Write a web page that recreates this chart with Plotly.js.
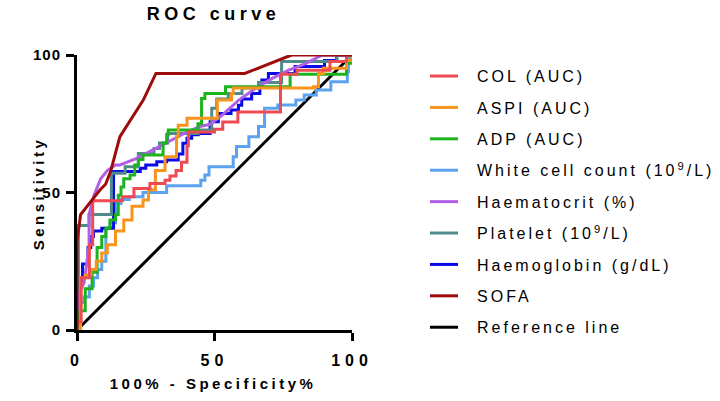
<!DOCTYPE html>
<html>
<head>
<meta charset="utf-8">
<script src="https://cdn.plot.ly/plotly-3.0.1.min.js"></script>
<style>
  html, body { margin: 0; padding: 0; background: #fff; }
  #chart { width: 720px; height: 401px; }
  #chart .gtitle { letter-spacing: 4.5px; }
  #chart .legendtext { letter-spacing: 3px; }
  #chart .legend .scrollbox, #chart .legend .bg, #chart .legend { clip-path: none !important; }
  #chart .legendlines path { stroke-dasharray: 28px 200px !important; }
  #chart .xtick text { letter-spacing: 5px; }
  #chart .ytick text { letter-spacing: 1px; }
  #chart .annotation-text { letter-spacing: 3.5px; }
</style>
</head>
<body>
<div id="chart"></div>
<script>
// ---- Data ----
const seriesNames = ["COL (AUC)", "ASPI (AUC)", "ADP (AUC)", "White cell count (10<sup>9</sup>/L)",
  "Haematocrit (%)", "Platelet (10<sup>9</sup>/L)", "Haemoglobin (g/dL)", "SOFA", "Reference line"];

// step curves (corner points, drawn horizontal-then-vertical)
const colX = [0,0,1.5,4.5,5.7,16.5,20.7,26.5,32,33.8,36,38,40,40.5,50,53,58.5,74,80,92,98,100];
const colY = [0,3,19,31,47,48.5,51.5,53.3,54.5,56,58,61,67,72,73,75.6,79.3,93,94.5,97.6,100,100];

const aspiX = [0,1.3,3,5,7,9,11,14,17,20,24,26,28.5,32,36.2,36.8,40,51,56.2,56.8,86,87.8,89.6,98,100];
const aspiY = [0,19,20,22,25,28,31,36,40,45,47.3,51,58,63,70.3,74.5,77,83.6,86,88,88.5,93.3,95.2,98,100];

const adpX = [0,0.7,3,5.5,7.3,9,10.5,12,14,15,16,17,19.3,21,22.3,24,31.3,32.6,33.2,44,45.3,46.5,54,77.5,98,100];
const adpY = [0,7,15,21,30,34,37,40,42,49,52,55,56.4,60,62,63.6,68,71,72.7,75,84.2,86,88.5,93,97,100];

const wccX = [0,0.5,2.5,4.5,6,7.5,9,10.5,12,14,16,19,24,32.6,45,46.5,48,56.8,58,62.5,66,68.2,73,79.6,82.6,87,92.3,98.3,98.7,100];
const wccY = [0,10,12,16,19,22,25,37,39,46,47.5,48.5,50,52.5,54.5,56.4,59.4,63,66.7,70.3,74,80.6,81.8,83.6,85.5,87.3,90.3,93.9,99.4,100];

const pltX = [0,0.5,4.4,12.5,17.5,22.3,28,30,33,44,49,50.8,55,60,66,74.4,94.5,100];
const pltY = [0,38,42,57,59.4,64.2,66,68,71.5,72.7,80.6,84,86,88,90,97.6,100,100];

const hbX = [0,0,0.5,1,2,4,5,6,9,13.3,23,25,29,32.6,36.8,38.5,40,41.7,44.1,48.4,51.4,56,58.7,59.9,63.5,66.5,67.2,69.6,79.3,90,94.4,100];
const hbY = [0,8,14,18,24,30,34,36,37,57.6,58.8,60,61.2,61.8,64,67.9,69.7,71,71.5,75.7,78.7,80,81.7,84,86,89,90.9,93.3,95.8,98,100,100];

// smoother curves (straight segments)
const hctX = [0,0.3,1,2.5,3,4,4.4,4.4,6.2,8.6,11,14,15.6,21.7,27.7,33.8,40,44.7,48.4,52.6,58.7,64.7,70.8,76.8,82.9,89,100];
const hctY = [0,10,14,17,20,28,31,42,49,55,58,60,60,62.4,65.5,68.5,72,74,74.8,78,83.5,87.7,91.4,94.4,96.8,99.9,100];

const sofaX = [0,0,1.3,8.4,10.4,12.2,15.6,24.1,28.7,61,78,100];
const sofaY = [0,32,42,51,53,57.6,70.3,83.6,93.3,93.3,100,100];

const refX = [0,100];
const refY = [0,100];

const xTicks = [0,50,100];
const yTicks = [0,50,100];

const colors = ["#ee4a52","#f7941d","#1db31d","#5ba3f0","#b35ee6","#4f8b8b","#0a0ae6","#9e0b0b","#000000"];

// ---- Traces ----
function tr(i, x, y, shape) {
  return {
    type: "scatter", mode: "lines", x: x, y: y,
    name: seriesNames[i], legendgroup: "g" + i, legendrank: i + 1,
    line: { color: colors[i], width: 3, shape: shape },
    hoverinfo: "skip"
  };
}

const data = [
  tr(8, refX, refY, "linear"),
  tr(3, wccX, wccY, "hv"),
  tr(6, hbX, hbY, "hv"),
  tr(5, pltX, pltY, "hv"),
  tr(4, hctX, hctY, "linear"),
  tr(2, adpX, adpY, "hv"),
  tr(1, aspiX, aspiY, "hv"),
  tr(0, colX, colY, "hv"),
  tr(7, sofaX, sofaY, "linear")
];

const fontFam = "'Liberation Sans', Arial, sans-serif";

const axisCommon = {
  range: [0, 100], showgrid: false, zeroline: false,
  showline: true, linecolor: "#000", linewidth: 3,
  ticks: "outside", ticklen: 8, tickwidth: 3, tickcolor: "#000",
  fixedrange: true
};

const layout = {
  width: 720, height: 401,
  margin: { l: 77, r: 368, t: 55, b: 71 },
  paper_bgcolor: "#fff", plot_bgcolor: "#fff",
  font: { family: fontFam, color: "#000" },
  title: {
    text: "ROC curve",
    font: { family: fontFam, size: 18, weight: "bold", color: "#000" },
    xref: "container", yref: "container", x: 0.2965, y: 0.965,
    xanchor: "center", yanchor: "middle"
  },
  xaxis: Object.assign({}, axisCommon, {
    tickvals: xTicks, ticktext: xTicks.map(String),
    tickfont: { family: fontFam, size: 16, weight: "bold", color: "#000" },
    ticklabelstandoff: 6
  }),
  yaxis: Object.assign({}, axisCommon, {
    tickvals: yTicks, ticktext: yTicks.map(String),
    tickfont: { family: fontFam, size: 15, weight: "bold", color: "#000" },
    ticklabelstandoff: 2
  }),
  showlegend: true,
  legend: {
    x: 1.2655, xanchor: "left", y: 0.985, yanchor: "top",
    font: { family: fontFam, size: 16, color: "#000" },
    traceorder: "grouped", tracegroupgap: 7.6, itemwidth: 42,
    bgcolor: "rgba(0,0,0,0)", borderwidth: 0
  },
  annotations: [
    {
      text: "Sensitivity", xref: "paper", yref: "paper", x: -0.14, y: 0.5,
      xanchor: "center", yanchor: "middle", textangle: -90, showarrow: false,
      font: { family: fontFam, size: 15, weight: "bold", color: "#000" }
    },
    {
      text: "100% - Specificity%", xref: "paper", yref: "paper", x: 0.4945, y: -0.196,
      xanchor: "center", yanchor: "middle", showarrow: false,
      font: { family: fontFam, size: 15, weight: "bold", color: "#000" }
    }
  ]
};

Plotly.newPlot("chart", data, layout, { staticPlot: true, displayModeBar: false });
</script>
</body>
</html>
